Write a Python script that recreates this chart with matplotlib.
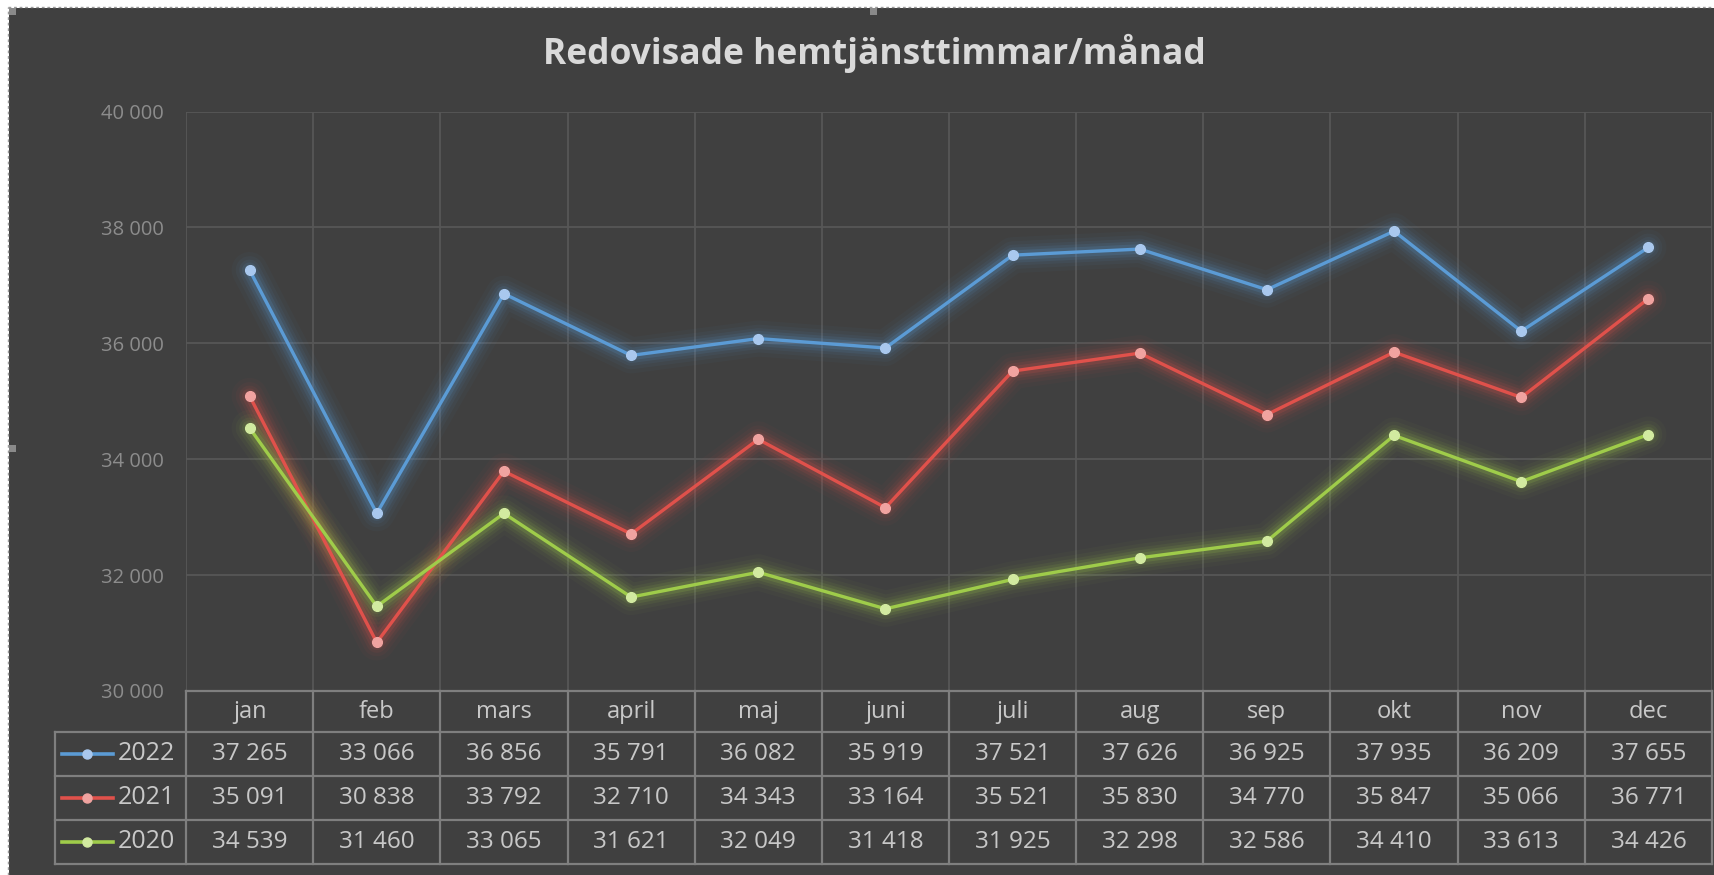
import matplotlib.pyplot as plt
import numpy as np
from matplotlib.patches import Rectangle
from matplotlib.lines import Line2D
from matplotlib.transforms import blended_transform_factory

# ==========================
# DATA
# ==========================

months = ['jan', 'feb', 'mars', 'april', 'maj', 'juni',
          'juli', 'aug', 'sep', 'okt', 'nov', 'dec']
years = ['2022', '2021', '2020']

hours_2022 = [37265, 33066, 36856, 35791, 36082, 35919, 37521, 37626, 36925, 37935, 36209, 37655]
hours_2021 = [35091, 30838, 33792, 32710, 34343, 33164, 35521, 35830, 34770, 35847, 35066, 36771]
hours_2020 = [34539, 31460, 33065, 31621, 32049, 31418, 31925, 32298, 32586, 34410, 33613, 34426]

line_colors = ['#5b9bd5', '#e0514b', '#9fcc4a']
marker_colors = ['#a9c8ee', '#f0a3a0', '#d2eaa0']

plt.rcParams['font.family'] = ['Open Sans', 'DejaVu Sans']

W, H = 1714, 875
BG = '#404040'
GRID = '#575757'
TABLE = '#7f7f7f'

fig = plt.figure(figsize=(W / 100, H / 100), dpi=100, facecolor='white')

# dark chart area + dashed selection frame
fig.patches.append(Rectangle((9 / W, 0), 1, (H - 8) / H, transform=fig.transFigure,
                             facecolor=BG, edgecolor='none', zorder=-1))
fig.lines.append(Line2D([8 / W, 1], [1 - 7 / H, 1 - 7 / H], transform=fig.transFigure,
                        color='#9a9a9a', lw=1, ls=(0, (2, 2))))
fig.lines.append(Line2D([8 / W, 8 / W], [0, 1 - 7 / H], transform=fig.transFigure,
                        color='#9a9a9a', lw=1, ls=(0, (2, 2))))
for hx, hy in [(9, 8), (870, 8), (9, 445)]:
    fig.patches.append(Rectangle((hx / W, 1 - (hy + 7) / H), 7 / W, 7 / H,
                                 transform=fig.transFigure, facecolor='#8a8a8a',
                                 edgecolor='none', zorder=1))

# ==========================
# LINE CHART
# ==========================

ax_top, ax_bot, ax_left, ax_right = 111.5, 691, 186, 1712
ax = fig.add_axes([ax_left / W, (H - ax_bot) / H,
                   (ax_right - ax_left) / W, (ax_bot - ax_top) / H])
ax.set_facecolor('none')

x = np.arange(len(months))
ax.set_xlim(-0.5, len(months) - 0.5)
ax.set_ylim(30000, 40000)
ax.set_yticks(range(30000, 40001, 2000))
ax.set_yticklabels([f'{v:,}'.replace(',', ' ') for v in range(30000, 40001, 2000)])
ax.tick_params(axis='y', length=0, pad=16, labelsize=14.5, labelcolor='#8c8c8c')
ax.set_xticks([])
for s in ax.spines.values():
    s.set_visible(False)

ax.yaxis.grid(True, color=GRID, lw=1.3)
for b in np.arange(-0.5, len(months)):
    ax.axvline(b, color=GRID, lw=1.3, zorder=0.5)

series = [hours_2022, hours_2021, hours_2020]
# soft glow under each line, then the line itself
for vals, c, mc in zip(series, line_colors, marker_colors):
    for lw, a in [(26, 0.035), (20, 0.05), (15, 0.07), (11, 0.1), (7, 0.16)]:
        ax.plot(x, vals, color=c, lw=lw, alpha=a,
                solid_joinstyle='round', solid_capstyle='round', zorder=2)
    ax.plot(x, vals, color=c, lw=2.4, marker='o', ms=7,
            mfc=mc, mec=mc, zorder=3)

# ==========================
# DATA TABLE
# ==========================

trans = blended_transform_factory(ax.transData, ax.transAxes)
col_w = (ax_right - ax_left) / len(months)


def fy(p):
    return (ax_bot - p) / (ax_bot - ax_top)


def fx(p):
    return -0.5 + (p - ax_left) / col_w


row_edges = [691, 732, 776, 820, 864]
left_edge = fx(55)
right_edge = len(months) - 0.5

for i, yy in enumerate(row_edges):
    x0 = -0.5 if i == 0 else left_edge
    ax.plot([x0, right_edge], [fy(yy), fy(yy)], color=TABLE, lw=1.6,
            transform=trans, clip_on=False)
ax.plot([left_edge, left_edge], [fy(732), fy(864)], color=TABLE, lw=1.6,
        transform=trans, clip_on=False)
for b in np.arange(-0.5, len(months)):
    ax.plot([b, b], [fy(691), fy(864)], color=TABLE, lw=1.6,
            transform=trans, clip_on=False)

for i, m in enumerate(months):
    ax.text(i, fy(712.5), m, transform=trans, ha='center', va='center',
            fontsize=17, color='#c8c8c8')

row_centers = [754, 798, 842]
for yc, yr, vals, c, mc in zip(row_centers, years, series, line_colors, marker_colors):
    ax.plot([fx(62), fx(113)], [fy(yc), fy(yc)], color=c, lw=2.6,
            transform=trans, clip_on=False)
    ax.plot([fx(87)], [fy(yc)], marker='o', ms=6.5, mfc=mc, mec=mc,
            transform=trans, clip_on=False)
    ax.text(fx(118), fy(yc), yr, transform=trans, ha='left', va='center',
            fontsize=18, color='#c8c8c8')
    for i, v in enumerate(vals):
        ax.text(i, fy(yc), f'{v:,}'.replace(',', ' '), transform=trans,
                ha='center', va='center', fontsize=17.5, color='#c8c8c8')

# ==========================
# TITLE
# ==========================

fig.text(874 / W, 1 - 53 / H, 'Redovisade hemtjänsttimmar/månad', ha='center', va='center',
         fontsize=25.5, fontweight='bold', color='#d9d9d9')

fig.savefig('out.png', dpi=100, facecolor=fig.get_facecolor())
